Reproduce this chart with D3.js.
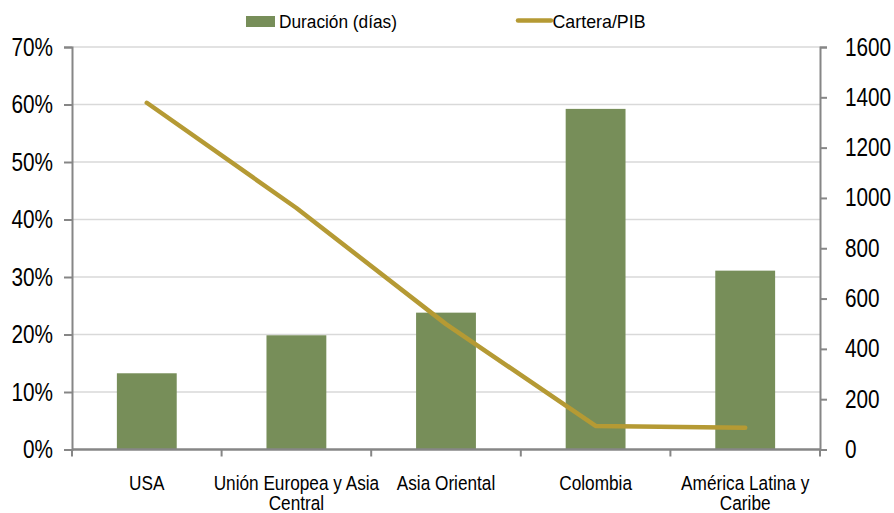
<!DOCTYPE html>
<html>
<head>
<meta charset="utf-8">
<script src="https://cdn.jsdelivr.net/npm/d3@7"></script>
<style>
  html, body { margin: 0; padding: 0; background: #fff; }
  svg { display: block; }
  text { font-family: "Liberation Sans Narrow", "Arial Narrow", "Liberation Sans", Arial, sans-serif; fill: #000; }
</style>
</head>
<body>
<svg id="chart" width="894" height="513"></svg>
<script>
// ---- Data ----
const categories = ["USA", "Unión Europea y Asia Central", "Asia Oriental", "Colombia", "América Latina y Caribe"];
const categoryLines = [["USA"], ["Unión Europea y Asia", "Central"], ["Asia Oriental"], ["Colombia"], ["América Latina y", "Caribe"]];
const duracionDias = [303, 454, 544, 1354, 711];          // bars, right axis
const carteraPIB = [0.603, 0.42, 0.218, 0.041, 0.038];     // line, left axis
const leftTicks = [0, 0.1, 0.2, 0.3, 0.4, 0.5, 0.6, 0.7];
const rightTicks = [0, 200, 400, 600, 800, 1000, 1200, 1400, 1600];
const seriesNames = ["Duración (días)", "Cartera/PIB"];

// ---- Layout ----
const W = 894, H = 513;
const m = { top: 47, right: 74, bottom: 63.5, left: 72 };
const iw = W - m.left - m.right, ih = H - m.top - m.bottom;
const barColor = "#778e59", lineColor = "#b59a34", axisColor = "#868686", gridColor = "#d9d9d9";

// condense a text horizontally around its anchor x (narrow-font look)
function condense(sel, ratio) {
  sel.each(function () {
    const t = d3.select(this);
    const x0 = +t.attr("x") || 0;
    const prev = t.attr("transform") || "";
    t.attr("transform", `${prev} translate(${x0},0) scale(${ratio},1) translate(${-x0},0)`);
  });
}

const svg = d3.select("#chart");
const g = svg.append("g").attr("transform", `translate(${m.left},${m.top})`);

const x = d3.scaleBand().domain(categories).range([0, iw]).paddingInner(0).paddingOuter(0);
const yL = d3.scaleLinear().domain([0, 0.7]).range([ih, 0]);
const yR = d3.scaleLinear().domain([0, 1600]).range([ih, 0]);

// gridlines (left axis)
g.append("g").selectAll("line").data(leftTicks.filter(d => d > 0)).join("line")
  .attr("x1", 0).attr("x2", iw)
  .attr("y1", d => yL(d)).attr("y2", d => yL(d))
  .attr("stroke", gridColor).attr("stroke-width", 1.5);

// bars
const bw = x.bandwidth() * 0.4;
g.append("g").selectAll("rect").data(categories).join("rect")
  .attr("x", d => x(d) + (x.bandwidth() - bw) / 2)
  .attr("width", bw)
  .attr("y", (d, i) => yR(duracionDias[i]))
  .attr("height", (d, i) => ih - yR(duracionDias[i]))
  .attr("fill", barColor);

// left axis
const axL = g.append("g").call(d3.axisLeft(yL).tickValues(leftTicks).tickFormat(d3.format(".0%")).tickSize(8).tickPadding(11));
axL.select(".domain").attr("stroke", axisColor).attr("stroke-width", 2);
axL.selectAll(".tick line").attr("stroke", axisColor).attr("stroke-width", 2);
axL.selectAll(".tick text").attr("font-size", 25).attr("font-family", null).call(condense, 0.83);

// right axis
const axR = g.append("g").attr("transform", `translate(${iw},0)`)
  .call(d3.axisRight(yR).tickValues(rightTicks).tickFormat(d3.format("d")).tickSize(7).tickPadding(18));
axR.select(".domain").attr("stroke", axisColor).attr("stroke-width", 2);
axR.selectAll(".tick line").attr("stroke", axisColor).attr("stroke-width", 2);
axR.selectAll(".tick text").attr("font-size", 25).attr("font-family", null).call(condense, 0.83);

// bottom axis (ticks at band boundaries)
const bottom = g.append("g").attr("transform", `translate(0,${ih})`);
bottom.append("line").attr("x1", 0).attr("x2", iw).attr("stroke", axisColor).attr("stroke-width", 2.5);
const bounds = categories.map(c => x(c)).concat([iw]);
bottom.selectAll("line.tk").data(bounds).join("line").attr("class", "tk")
  .attr("x1", d => d).attr("x2", d => d).attr("y1", 0).attr("y2", 7)
  .attr("stroke", axisColor).attr("stroke-width", 2);
const lab = bottom.selectAll("text.cat").data(categories).join("text").attr("class", "cat")
  .attr("text-anchor", "middle").attr("font-size", 20.5)
  .attr("transform", d => `translate(${x(d) + x.bandwidth() / 2},0)`)
  .call(condense, 0.84);
lab.selectAll("tspan").data((d, i) => categoryLines[i]).join("tspan")
  .attr("x", 0).attr("y", (d, j) => 40.5 + j * 20).text(d => d);

// line
const line = d3.line().x((d, i) => x(categories[i]) + x.bandwidth() / 2).y(d => yL(d));
g.append("path").datum(carteraPIB).attr("d", line)
  .attr("fill", "none").attr("stroke", lineColor).attr("stroke-width", 4.5)
  .attr("stroke-linejoin", "round").attr("stroke-linecap", "round");

// legend
const lg = svg.append("g");
lg.append("rect").attr("x", 246).attr("y", 16).attr("width", 29).attr("height", 11).attr("fill", barColor);
lg.append("text").attr("x", 279).attr("y", 21.5).attr("dy", "0.35em").attr("font-size", 18)
  .text(seriesNames[0]).call(condense, 0.96);
lg.append("line").attr("x1", 518).attr("x2", 551).attr("y1", 20.5).attr("y2", 20.5)
  .attr("stroke", lineColor).attr("stroke-width", 4.5).attr("stroke-linecap", "round");
lg.append("text").attr("x", 552.5).attr("y", 21.5).attr("dy", "0.35em").attr("font-size", 18)
  .text(seriesNames[1]).call(condense, 0.99);
</script>
</body>
</html>
